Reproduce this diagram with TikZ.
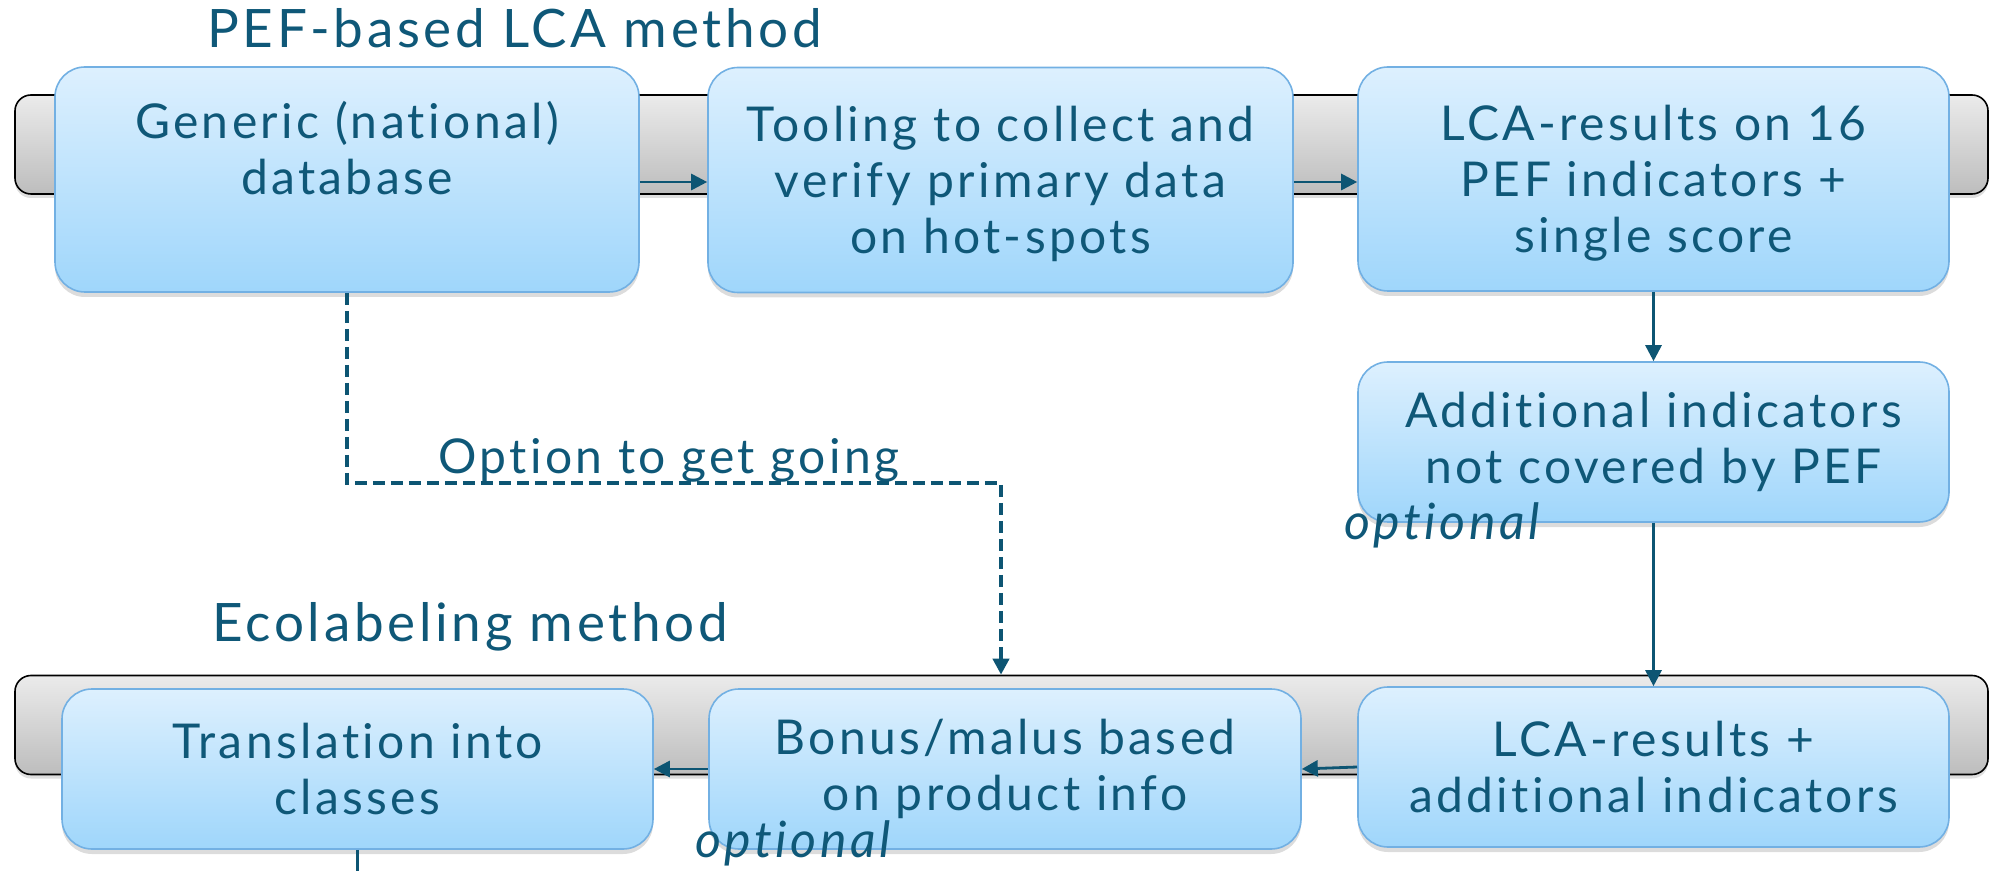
\documentclass[tikz,border=0pt]{standalone}
\usepackage{fontspec}
\setmainfont[LetterSpace=7,Ligatures=NoCommon]{Lato}
\usetikzlibrary{arrows.meta,shadows}
\definecolor{txt}{HTML}{0F5878}
\definecolor{arr}{HTML}{0D5573}
\definecolor{boxtop}{HTML}{DDF0FE}
\definecolor{boxbot}{HTML}{9FD6FB}
\definecolor{boxline}{HTML}{72B0E3}
\definecolor{bartop}{HTML}{EBEBEB}
\definecolor{barbot}{HTML}{BDBDBD}
\tikzset{
  bar/.style={draw=black, line width=0.8pt, rounded corners=8pt,
    top color=bartop, bottom color=barbot, minimum width=986.5pt, minimum height=49.5pt,
    drop shadow={shadow xshift=0pt, shadow yshift=-2pt, opacity=0.25}},
  stepbox/.style={draw=boxline, line width=0.8pt, rounded corners=15pt,
    top color=boxtop, bottom color=boxbot, text=txt, align=center, inner sep=0pt,
    font=\fontsize{24}{28}\selectfont,
    drop shadow={shadow xshift=0pt, shadow yshift=-2.5pt, opacity=0.28}},
  lbl/.style={text=txt, inner sep=0pt, anchor=west, font=\fontsize{24}{28}\selectfont},
  ttl/.style={lbl, font=\fontsize{26.5}{30}\selectfont},
  ilbl/.style={lbl, font=\fontsize{25}{28}\selectfont\itshape},
  flow/.style={draw=arr, line width=1.4pt, -{Triangle[length=8pt,width=8pt]}},
  dflow/.style={flow, line width=2pt, dash pattern=on 6pt off 3pt},
}
\begin{document}
\begin{tikzpicture}[x=0.5pt,y=-0.5pt]
\useasboundingbox (0,0) rectangle (1992,871);
% bars
\node[bar] (topbar) at (1001.5,144.5) {};
\node[bar] (botbar) at (1001.5,725) {};
% titles
\node[ttl] (t1) at (207,28) {PEF-based LCA method};
\node[ttl] (t2) at (212,627) {Ecolabeling method};
% boxes
\node[stepbox, minimum width=292pt, minimum height=112.5pt] (A) at (347,179.5) {Generic (national)\\database\\\rule[-3.4pt]{0pt}{3.4pt}};
\node[stepbox, minimum width=292.5pt, minimum height=112.5pt] (B) at (1000.5,180) {Tooling to collect and\\verify primary data\\\smash{on hot-spots}};
\node[stepbox, minimum width=295.5pt, minimum height=112pt] (C) at (1653.5,179) {LCA-results on 16\\PEF indicators +\\\smash{single score}};
\node[stepbox, minimum width=295.5pt, minimum height=80pt] (D) at (1653.5,442) {Additional indicators\\not covered by PEF};
\node[stepbox, minimum width=295.5pt, minimum height=80pt] (E) at (357.5,769) {Translation into\\classes};
\node[stepbox, minimum width=296pt, minimum height=80pt] (F) at (1005,769) {Bonus/malus based\\on product info};
\node[stepbox, minimum width=295.5pt, minimum height=80pt] (G) at (1653.5,767) {LCA-results +\\additional indicators};
% labels
\node[ilbl] (o1) at (1344,525) {optional};
\node[ilbl] (o2) at (695,843) {optional};
\node[lbl] (og) at (438,460) {Option to get going};
% connectors
\draw[flow] (A.east |- 0,182) -- (B.west |- 0,182);
\draw[flow] (B.east |- 0,182) -- (C.west |- 0,182);
\draw[flow] (C.south) -- (D.north);
\draw[flow] (D.south) -- (G.north);
\draw[flow] (G.west) -- (F.east);
\draw[flow] (F.west) -- (E.east);
\coordinate (dd) at (1001,483);
\draw[dflow] (A.south) |- (dd) -- (dd |- botbar.north);
\coordinate (eout) at (357.5,871);
\draw[draw=arr, line width=1.4pt] (E.south) -- (eout);
\end{tikzpicture}
\end{document}
